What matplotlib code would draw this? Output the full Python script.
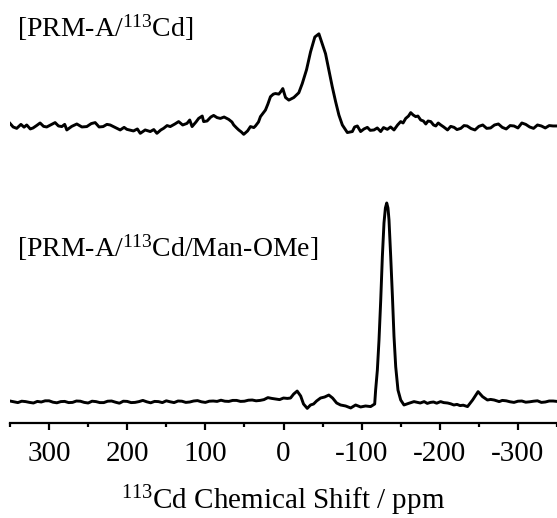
import matplotlib
matplotlib.use("Agg")
import matplotlib.pyplot as plt
from matplotlib.ticker import MultipleLocator

plt.rcParams['font.family'] = ['Liberation Serif', 'DejaVu Serif']
plt.rcParams['mathtext.fontset'] = 'custom'
plt.rcParams['mathtext.rm'] = 'Liberation Serif'
plt.rcParams['mathtext.it'] = 'Liberation Serif:italic'

# ---- data (chemical shift in ppm, intensity in arbitrary units) ----
top_ppm = [350, 346, 341.4, 336, 332, 328.6, 324, 320.5, 316, 311.5,
           307, 303, 298, 292.3, 288, 283.7, 280, 277.3, 271, 264.5,
           258, 251.7, 246, 241, 236, 230.8, 226, 221.8, 215, 209,
           204, 200.4, 192, 187, 183.3, 177, 170.5, 166, 162, 157,
           153.5, 149, 144.9, 139, 134.2, 129, 123.5, 120, 117, 112,
           108.6, 104, 102.2, 97.8, 93, 89.4, 85, 80.8, 76, 70.1,
           66, 63.7, 60, 57.3, 54, 50.9, 46, 42.3, 38, 35.9,
           32, 29.5, 26, 23.1, 20, 16.7, 13, 10.3, 6, 3,
           0.9, -2.6, -6.8, -13.2, -19.6, -24, -29.5, -34.6, -40.1, -45.3,
           -49.6, -53.8, -58.1, -62.4, -66.7, -70.9, -75.3, -81.7, -88.1, -91,
           -94.5, -98.7, -103, -107.3, -111, -115.8, -120, -124.4, -128, -132.9,
           -137, -141.4, -146, -150, -153, -156.4, -160, -162.8, -166, -169.2,
           -172, -175.6, -179, -182.1, -185, -188.5, -192, -194.9, -198, -201.3,
           -205, -209.9, -214, -218.3, -222, -226.9, -231, -235, -240, -245,
           -250, -255, -260, -265, -270, -275, -280, -285, -290, -295,
           -300, -305, -310, -315, -320, -325, -330, -335, -340, -345, -350]
top_int = [2.3, 0.5, -0.2, 1.8, 0.4, 1.5, -0.5, 0, 1.2, 2.5,
           0.8, 0.5, 1.5, 2.7, 1, 0.7, 1.8, -1, 0.8, 2,
           0.5, 0.7, 2.2, 2.7, 0.5, 0.7, 1.8, 1.5, 0.2, -1,
           0.3, -0.7, -1.5, -0.5, -2.7, -1, -1.8, -0.8, -2.7, -1,
           -0.2, 1.2, 0.7, 2, 3.2, 1.5, 2.3, 4, 0.7, 3,
           4.8, 6, 3.2, 3.5, 5.5, 6.3, 5.2, 4.8, 5.5, 4.3,
           3, 1.5, 0, -1, -2, -3.2, -1.5, 0.7, 0.2, 1,
           3, 5.7, 7.5, 9, 12, 15.7, 17, 17.3, 17, 18.5,
           19.8, 15.3, 14, 15.3, 17.7, 22.3, 29.3, 38.2, 45.7, 47.3,
           42.3, 37.3, 29, 20.7, 13.2, 6.5, 1.5, -2.3, -1.8, 0.5,
           1, -1.8, -0.5, 0.3, -1.2, -1, 0, -1.8, 0.2, -0.7,
           0.5, -1, 1.5, 3.2, 2.5, 4.8, 6, 7.7, 6.5, 5.7,
           6, 4, 3.5, 2, 3.5, 3.2, 1.5, 1, 2.5, 1.5,
           0.5, -1, 0.8, 0.3, -0.8, -0.2, 1.2, 1, -0.3, -1,
           0.8, 1.5, -0.2, 0, 1.5, 2, 0.3, -0.5, 1.2, 1,
           0, 2.5, 1.8, 0.5, -0.2, 1.5, 1, 0, 1.2, 1, 1]

bot_ppm = [350, 345, 340, 335, 330, 325, 320, 315, 310, 305,
           300, 295, 290, 285, 280, 275, 270, 265, 260, 255,
           250, 245, 240, 235, 230, 225, 220, 215, 210, 205,
           200, 195, 190, 185, 180, 175, 170, 165, 160, 155,
           150, 145, 140, 135, 130, 125, 120, 115, 110, 105,
           100, 95, 90, 85, 80, 75, 70, 65, 60, 55,
           50, 45, 40, 35, 30, 25, 20, 15, 10, 5,
           0, -5, -9, -13, -17.5, -22, -25.6, -30.4, -34.6, -38.5,
           -42.3, -47.4, -52.6, -58, -62.8, -68, -73, -79.5, -86, -92.3,
           -98.7, -105, -111.5, -116.7, -117.9, -120.1, -122.2, -124.4, -126.5, -128.6,
           -130.4, -132.1, -133.7, -135, -137.2, -139.4, -141.4, -143.6, -146.5, -150,
           -154.2, -160, -167, -175, -180, -184, -188, -192, -196, -201,
           -205, -210, -214, -218, -222, -226, -230, -235.5, -242, -249,
           -254.7, -261, -265, -269.6, -276, -280, -285, -290, -295, -300,
           -305, -310, -315, -320, -325, -330, -335, -340, -345, -350]
bot_int = [0.5, 0.1, -0.3, 0.4, 0.2, -0.2, -0.5, 0.3, 0, 0.6,
           0.6, -0.1, -0.4, 0.2, 0.3, -0.3, -0.2, 0.5, 0.4, -0.2,
           -0.5, 0.4, 0.2, -0.3, -0.3, 0.4, 0.5, -0.1, -0.6, 0.4,
           0.3, -0.3, -0.2, 0.2, 0.8, 0.1, -0.4, 0.3, 0.2, -0.3,
           0.6, 0.1, -0.3, 0.5, 0.4, -0.2, 0, 0.5, 0.7, 0.1,
           -0.2, 0.4, 0.5, 0.3, 0.9, 0.4, 0.3, 0.8, 0.8, 0.3,
           0.4, 0.9, 1, 0.6, 0.8, 1.2, 2.2, 1.8, 1.5, 1.2,
           2, 1.8, 2, 4, 5.5, 3, -1, -3.2, -1.5, -1,
           0.5, 2, 2.5, 3.5, 2, -0.5, -1.5, -2, -3, -1.5,
           -2.5, -2, -2.3, -1, 6, 16, 31, 51, 73, 90,
           97.5, 100, 97.5, 91.5, 73, 53, 33, 17.7, 6, 1,
           -1.5, -0.7, 0.2, -0.5, 0.2, -0.7, -0.2, 0, -0.6, 0.2,
           -0.3, -0.5, -0.9, -1.5, -1.2, -1.8, -1.6, -2.3, 1, 5.2,
           2.7, 1, 1.3, 1, 0.2, 0.8, 0.6, 0.1, -0.2, 0.4,
           0.5, -0.1, 0.1, 0.4, 0.6, -0.2, 0, 0.5, 0.5, 0.3]

top_offset = 137.7
labels = [r'[PRM-A/$^{113}$Cd]', r'[PRM-A/$^{113}$Cd/Man-OMe]']
xlabel = r'$^{113}$Cd Chemical Shift / ppm'
major_ticks = [300, 200, 100, 0, -100, -200, -300]

fig = plt.figure(figsize=(5.57, 5.18), dpi=100)
ax = fig.add_axes([10 / 557, (518 - 422.7) / 518, 1 - 10 / 557, 422.7 / 518])

ax.plot(top_ppm, [v + top_offset for v in top_int], color='black', lw=2.1,
        solid_joinstyle='round')
ax.plot(bot_ppm, bot_int, color='black', lw=2.1, solid_joinstyle='round')

ax.set_xlim(350, -350)
ax.set_ylim(-10.4, 202)

for s in ['top', 'left', 'right']:
    ax.spines[s].set_visible(False)
ax.spines['bottom'].set_linewidth(1.6)
ax.set_yticks([])
ax.set_xticks(major_ticks)
ax.set_xticklabels([str(t) for t in major_ticks])
ax.xaxis.set_minor_locator(MultipleLocator(50))
ax.tick_params(axis='x', which='major', direction='out', length=5, width=1.6,
               labelsize=21, pad=8)
ax.tick_params(axis='x', which='minor', direction='out', length=3, width=1.6)
ax.set_xlabel(xlabel, fontsize=21, labelpad=12)

ax.text(341, 183.4, labels[0], fontsize=20, va='baseline', ha='left')
ax.text(341, 73, labels[1], fontsize=20, va='baseline', ha='left')

fig.savefig('out.png', dpi=100)
